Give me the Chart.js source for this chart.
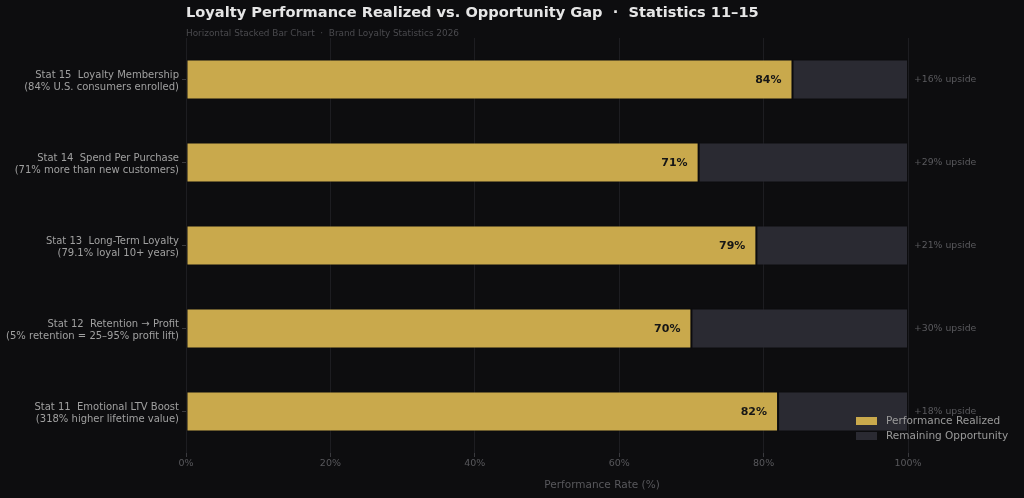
<!DOCTYPE html>
<html>
<head>
<meta charset="utf-8">
<script src="https://cdn.jsdelivr.net/npm/chart.js@4/dist/chart.umd.min.js"></script>
<style>
html,body{margin:0;padding:0;background:#0d0d0f;}
#wrap{width:1024px;height:498px;position:relative;}
</style>
</head>
<body>
<div id="wrap"><canvas id="c" width="1024" height="498"></canvas></div>
<script>
const categories = [
  ["Stat 15  Loyalty Membership", "(84% U.S. consumers enrolled)"],
  ["Stat 14  Spend Per Purchase", "(71% more than new customers)"],
  ["Stat 13  Long-Term Loyalty", "(79.1% loyal 10+ years)"],
  ["Stat 12  Retention \u2192 Profit", "(5% retention = 25\u201395% profit lift)"],
  ["Stat 11  Emotional LTV Boost", "(318% higher lifetime value)"]
];
const realized = [84, 71, 79, 70, 82];
const remaining = [16, 29, 21, 30, 18];
const valueLabels = ["84%", "71%", "79%", "70%", "82%"];
const upsideLabels = ["+16% upside", "+29% upside", "+21% upside", "+30% upside", "+18% upside"];
const xTicks = [0, 20, 40, 60, 80, 100];
const seriesNames = ["Performance Realized", "Remaining Opportunity"];
const titleText = "Loyalty Performance Realized vs. Opportunity Gap  \u00b7  Statistics 11\u201315";
const subtitleText = "Horizontal Stacked Bar Chart  \u00b7  Brand Loyalty Statistics 2026";
const xTitle = "Performance Rate (%)";

const GOLD = "#c9a94c";
const DARK = "#2a2a32";
const FONT = "'DejaVu Sans', sans-serif";

const overlay = {
  id: "overlay",
  afterDatasetsDraw(chart) {
    const ctx = chart.ctx;
    const area = chart.chartArea;
    ctx.save();
    // title
    ctx.textBaseline = "middle";
    ctx.textAlign = "left";
    ctx.fillStyle = "#e6e6e6";
    ctx.font = "bold 14.6px " + FONT;
    ctx.fillText(titleText, area.left, 13.5);
    ctx.fillStyle = "#4a4a4e";
    ctx.font = "8.9px " + FONT;
    ctx.fillText(subtitleText, area.left, 34);
    // value labels
    const m0 = chart.getDatasetMeta(0);
    ctx.font = "bold 11px " + FONT;
    ctx.fillStyle = "#161616";
    ctx.textAlign = "right";
    m0.data.forEach((bar, i) => {
      ctx.fillText(valueLabels[i], bar.x - 11, bar.y + 0.5);
    });
    // upside labels
    const m1 = chart.getDatasetMeta(1);
    ctx.font = "9.3px " + FONT;
    ctx.fillStyle = "#5a5a5e";
    ctx.textAlign = "left";
    m1.data.forEach((bar, i) => {
      ctx.fillText(upsideLabels[i], bar.x + 6, bar.y + 0.5);
    });
    // x axis title
    ctx.font = "10.5px " + FONT;
    ctx.fillStyle = "#58585c";
    ctx.textAlign = "center";
    ctx.fillText(xTitle, 602, 485);
    // legend
    const lx = 856, ly = [421, 436];
    ctx.textAlign = "left";
    ctx.font = "10.5px " + FONT;
    [GOLD, DARK].forEach((col, i) => {
      ctx.fillStyle = col;
      ctx.fillRect(lx, ly[i] - 4, 21, 8);
      ctx.fillStyle = "#9a9a9a";
      ctx.fillText(seriesNames[i], lx + 30, ly[i]);
    });
    ctx.restore();
  }
};

const bgPlugin = {
  id: "bg",
  beforeDraw(chart) {
    const ctx = chart.ctx;
    ctx.save();
    ctx.fillStyle = "#0d0d0f";
    ctx.fillRect(0, 0, chart.width, chart.height);
    ctx.restore();
  }
};

new Chart(document.getElementById("c"), {
  type: "bar",
  data: {
    labels: categories,
    datasets: [
      { label: seriesNames[0], data: realized, backgroundColor: GOLD, borderColor: "rgba(13,13,15,0.45)", borderWidth: 1, borderSkipped: false },
      { label: seriesNames[1], data: remaining, backgroundColor: DARK, borderColor: "rgba(13,13,15,0.45)", borderWidth: 1, borderSkipped: false }
    ]
  },
  options: {
    indexAxis: "y",
    responsive: false,
    animation: false,
    devicePixelRatio: 1,
    datasets: { bar: { categoryPercentage: 1.0, barPercentage: 0.48 } },
    layout: { padding: { top: 38, right: 116, left: 0, bottom: 0 } },
    plugins: { legend: { display: false }, tooltip: { enabled: false } },
    scales: {
      x: {
        stacked: true,
        min: 0, max: 100,
        afterBuildTicks(scale) { scale.ticks = xTicks.map(v => ({ value: v })); },
        afterFit(scale) { scale.height = 45; },
        border: { display: false },
        grid: { color: "#1d1d21", lineWidth: 1, tickLength: 4, tickColor: "#3a3a3e" },
        ticks: { color: "#58585c", font: { family: FONT, size: 9.5 }, padding: 1, callback: v => v + "%" },
        title: { display: false }
      },
      y: {
        stacked: true,
        afterFit(scale) { scale.width = 186; },
        border: { display: false },
        grid: { offset: false, drawOnChartArea: false, tickLength: 4, tickColor: "#3a3a3e" },
        ticks: { color: "#a0a0a0", font: { family: FONT, size: 10, lineHeight: 1.15 }, padding: 3, labelOffset: 2 }
      }
    }
  },
  plugins: [bgPlugin, overlay]
});
</script>
</body>
</html>
